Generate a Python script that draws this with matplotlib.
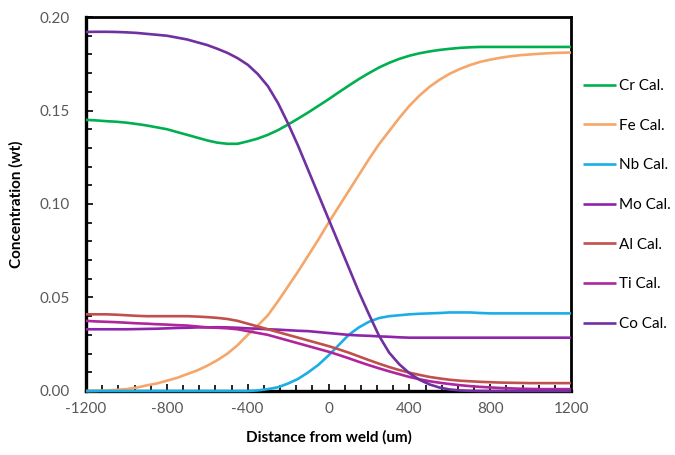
import matplotlib
matplotlib.use("Agg")
import matplotlib.pyplot as plt
from matplotlib.ticker import MultipleLocator, FormatStrFormatter

plt.rcParams['font.family'] = ['Lato', 'DejaVu Sans']
plt.rcParams['axes.unicode_minus'] = False

# distance from weld centre line (um), 50 um steps
distance = list(range(-1200, 1201, 50))

# calculated concentration profiles (wt fraction)
cr = [0.145, 0.1447, 0.1443, 0.144, 0.1435, 0.1428, 0.142, 0.141, 0.140, 0.1385,
      0.137, 0.1355, 0.134, 0.1328, 0.1322, 0.1322, 0.1335, 0.135, 0.137, 0.1395,
      0.1425, 0.1457, 0.149, 0.1525, 0.156, 0.1597, 0.1633, 0.1668, 0.170, 0.173,
      0.1755, 0.1776, 0.1793, 0.1806, 0.1816, 0.1824, 0.183, 0.1835, 0.1838, 0.184,
      0.184, 0.184, 0.184, 0.184, 0.184, 0.184, 0.184, 0.184, 0.184]
fe = [0.0, 0.0001, 0.0003, 0.0006, 0.001, 0.0018, 0.003, 0.004, 0.0055, 0.007,
      0.009, 0.011, 0.0135, 0.0165, 0.020, 0.0245, 0.030, 0.035, 0.0405, 0.048,
      0.056, 0.064, 0.0725, 0.081, 0.090, 0.0985, 0.107, 0.1155, 0.124, 0.132,
      0.139, 0.146, 0.1525, 0.158, 0.1627, 0.1665, 0.1697, 0.1722, 0.1743, 0.176,
      0.1772, 0.1782, 0.179, 0.1796, 0.180, 0.1804, 0.1807, 0.1809, 0.181]
nb = [0.0, 0.0, 0.0, 0.0, 0.0, 0.0, 0.0, 0.0, 0.0, 0.0,
      0.0, 0.0, 0.0, 0.0, 0.0, 0.0, 0.0, 0.0003, 0.001, 0.002,
      0.004, 0.0065, 0.010, 0.014, 0.019, 0.0245, 0.030, 0.034, 0.037, 0.039,
      0.040, 0.0405, 0.041, 0.0413, 0.0415, 0.0417, 0.042, 0.042, 0.042, 0.0417,
      0.0415, 0.0415, 0.0415, 0.0415, 0.0415, 0.0415, 0.0415, 0.0415, 0.0415]
mo = [0.033, 0.033, 0.033, 0.033, 0.033, 0.0331, 0.0332, 0.0333, 0.0335, 0.0337,
      0.0338, 0.034, 0.034, 0.0341, 0.034, 0.0338, 0.0335, 0.0333, 0.033, 0.0328,
      0.0325, 0.0322, 0.032, 0.0315, 0.031, 0.0305, 0.030, 0.0297, 0.0295, 0.0292,
      0.029, 0.0287, 0.0285, 0.0285, 0.0285, 0.0285, 0.0285, 0.0285, 0.0285, 0.0285,
      0.0285, 0.0285, 0.0285, 0.0285, 0.0285, 0.0285, 0.0285, 0.0285, 0.0285]
al = [0.041, 0.041, 0.041, 0.0408, 0.0405, 0.0402, 0.040, 0.040, 0.040, 0.040,
      0.040, 0.0398, 0.0395, 0.0391, 0.0385, 0.0375, 0.036, 0.0345, 0.033, 0.0315,
      0.030, 0.0285, 0.027, 0.0255, 0.024, 0.0223, 0.0205, 0.0185, 0.0165, 0.0146,
      0.0128, 0.0112, 0.0098, 0.0086, 0.0075, 0.0067, 0.006, 0.0055, 0.0052, 0.0049,
      0.0047, 0.0045, 0.0044, 0.0043, 0.0042, 0.0042, 0.0042, 0.0042, 0.0042]
ti = [0.0375, 0.0372, 0.037, 0.0368, 0.0365, 0.0362, 0.036, 0.0357, 0.0355, 0.0352,
      0.035, 0.0345, 0.034, 0.0338, 0.0335, 0.033, 0.032, 0.031, 0.030, 0.0285,
      0.027, 0.0255, 0.024, 0.0225, 0.021, 0.0193, 0.0175, 0.0156, 0.0138, 0.0121,
      0.0105, 0.009, 0.0075, 0.0063, 0.0052, 0.0044, 0.0037, 0.0031, 0.0026, 0.0022,
      0.0019, 0.0016, 0.0014, 0.0012, 0.0011, 0.001, 0.001, 0.001, 0.001]
co = [0.192, 0.1921, 0.1921, 0.192, 0.1918, 0.1915, 0.191, 0.1905, 0.190, 0.189,
      0.188, 0.1865, 0.185, 0.183, 0.1808, 0.178, 0.1745, 0.1695, 0.163, 0.154,
      0.143, 0.131, 0.118, 0.105, 0.092, 0.079, 0.066, 0.053, 0.041, 0.0295,
      0.0205, 0.0143, 0.0095, 0.006, 0.0035, 0.0018, 0.0008, 0.0003, 0.0001, 0.0,
      0.0, 0.0, 0.0, 0.0, 0.0, 0.0, 0.0, 0.0, 0.0]

series = [
    ("Cr Cal.", cr, "#00B050"),
    ("Fe Cal.", fe, "#F5A66A"),
    ("Nb Cal.", nb, "#1BAEE6"),
    ("Mo Cal.", mo, "#8E24AA"),
    ("Al Cal.", al, "#C0504D"),
    ("Ti Cal.", ti, "#B0259B"),
    ("Co Cal.", co, "#7030A0"),
]

fig = plt.figure(figsize=(6.75, 4.55), dpi=100)
ax = fig.add_axes([0.1274, 0.1407, 0.7186, 0.8219])

for label, values, color in series:
    ax.plot(distance, values, color=color, lw=1.9, label=label,
            clip_on=False, zorder=3, solid_capstyle='butt')

ax.set_xlim(-1200, 1200)
ax.set_ylim(0, 0.20)
ax.xaxis.set_major_locator(MultipleLocator(400))
ax.xaxis.set_minor_locator(MultipleLocator(80))
ax.yaxis.set_major_locator(MultipleLocator(0.05))
ax.yaxis.set_minor_locator(MultipleLocator(0.01))
ax.yaxis.set_major_formatter(FormatStrFormatter('%.2f'))

ax.tick_params(which='both', direction='in', colors='black', labelcolor='#595959',
               labelsize=11, width=1.2)
ax.tick_params(which='major', length=5)
ax.tick_params(which='minor', length=4)
ax.tick_params(axis='y', pad=12)
ax.tick_params(axis='x', pad=8)

for side in ['left', 'bottom']:
    ax.spines[side].set_linewidth(2.4)
for side in ['top', 'right']:
    ax.spines[side].set_linewidth(2.0)

ax.set_xlabel("Distance from weld (um)", fontsize=11, fontweight='bold', labelpad=10)
ax.set_ylabel("Concentration (wt)", fontsize=11, fontweight='bold', labelpad=11)

ax.legend(loc='upper left', bbox_to_anchor=(1.024, 0.834), frameon=False,
          fontsize=11, handlelength=2.2, handletextpad=0.2, labelspacing=1.68,
          borderpad=0, borderaxespad=0)

fig.savefig("out.png", dpi=100)
